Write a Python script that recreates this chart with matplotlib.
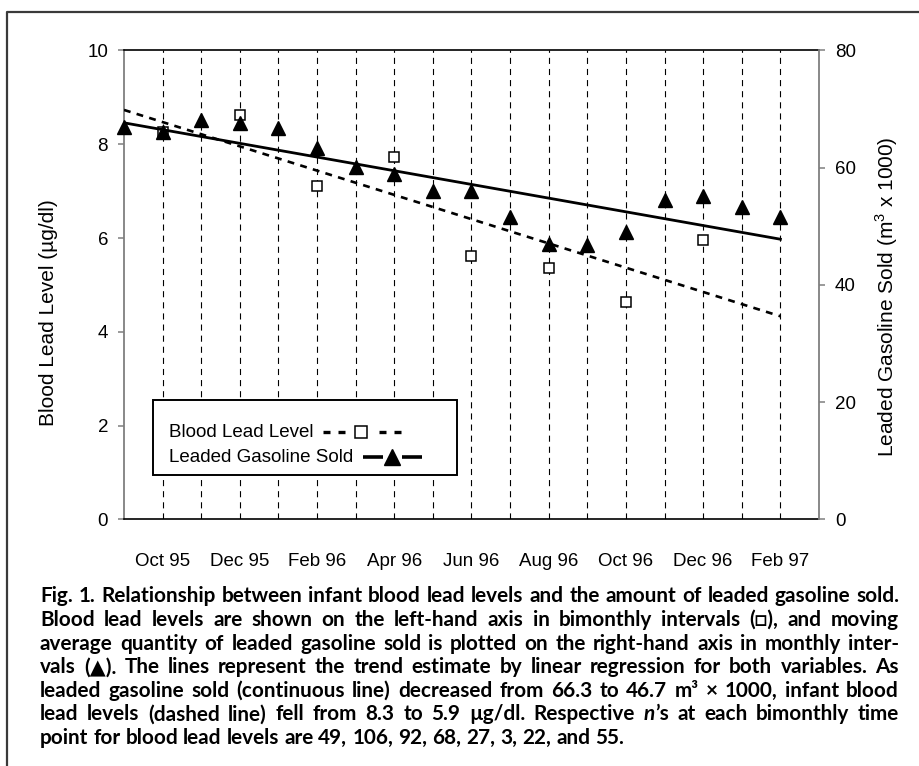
import numpy as np
import matplotlib
matplotlib.use("Agg")
import matplotlib.pyplot as plt
from matplotlib.lines import Line2D
from matplotlib.patches import Rectangle

plt.rcParams['font.family'] = ['Liberation Sans', 'DejaVu Sans']
plt.rcParams['mathtext.fontset'] = 'custom'
plt.rcParams['mathtext.rm'] = 'Liberation Sans'

# ---------------- data ----------------
months = ['Sep 95', 'Oct 95', 'Nov 95', 'Dec 95', 'Jan 96', 'Feb 96', 'Mar 96', 'Apr 96', 'May 96',
          'Jun 96', 'Jul 96', 'Aug 96', 'Sep 96', 'Oct 96', 'Nov 96', 'Dec 96', 'Jan 97', 'Feb 97']
gasoline_sold = [67.0, 66.1, 68.2, 67.7, 66.7, 63.4, 60.1, 58.9, 56.0,
                 56.1, 51.6, 47.0, 46.8, 49.0, 54.5, 55.1, 53.3, 51.6]
blood_months = ['Oct 95', 'Dec 95', 'Feb 96', 'Apr 96', 'Jun 96', 'Aug 96', 'Oct 96', 'Dec 96']
blood_lead = [8.26, 8.62, 7.12, 7.73, 5.62, 5.35, 4.64, 5.95]
tick_labels = ['Oct 95', 'Dec 95', 'Feb 96', 'Apr 96', 'Jun 96', 'Aug 96', 'Oct 96', 'Dec 96', 'Feb 97']
left_ticks = [0, 2, 4, 6, 8, 10]
right_ticks = [0, 20, 40, 60, 80]

caption_lines = [
    "Fig. 1. Relationship between infant blood lead levels and the amount of leaded gasoline sold.",
    "Blood lead levels are shown on the left-hand axis in bimonthly intervals (\u25a1), and moving",
    "average quantity of leaded gasoline sold is plotted on the right-hand axis in monthly inter-",
    "vals (\u25b2). The lines represent the trend estimate by linear regression for both variables. As",
    "leaded gasoline sold (continuous line) decreased from 66.3 to 46.7 m\u00b3 \u00d7 1000, infant blood",
    "lead levels (dashed line) fell from 8.3 to 5.9 \u00b5g/dl. Respective n\u2019s at each bimonthly time",
    "point for blood lead levels are 49, 106, 92, 68, 27, 3, 22, and 55.",
]

# ---------------- figure ----------------
W, H = 920, 766
fig = plt.figure(figsize=(W / 100, H / 100), dpi=100)
fig.patch.set_facecolor('white')


def fx(x):
    return x / W


def fy(y):
    return 1 - y / H


ax = fig.add_axes([fx(124), fy(519.3), (819 - 124) / W, (519.3 - 50.5) / H])
ax2 = ax.twinx()

x_gas = np.arange(len(months))
x_blood = np.array([months.index(m) for m in blood_months])
x_grid = np.arange(1, len(months))

ax.set_xlim(0, len(months))
ax.set_ylim(0, 10)
ax2.set_ylim(0, 80)

# vertical dashed month lines
for xg in x_grid:
    ax.axvline(xg, color='black', lw=0.8, linestyle=(0, (5.5, 4.5)), zorder=1)

# blood lead: regression (dashed) and squares
cb = np.polyfit(x_blood, blood_lead, 1)
xt = np.array([x_gas[0], x_gas[-1]])
ax.plot(xt, np.polyval(cb, xt), color='black', lw=1.9, linestyle=(0, (2.6, 2.4)), zorder=3)
ax.plot(x_blood, blood_lead, 's', ms=7.5, mfc='white', mec='black', mew=1.1,
        clip_on=False, zorder=4)

# gasoline: regression (solid) and triangles
cg = np.polyfit(x_gas, gasoline_sold, 1)
ax2.plot(xt, np.polyval(cg, xt), color='black', lw=2.0, zorder=3)
ax2.plot(x_gas, gasoline_sold, '^', ms=10, color='black', clip_on=False, zorder=4)

# spines
for s in ['top', 'bottom']:
    ax.spines[s].set_color('black')
    ax.spines[s].set_linewidth(1.2)
ax.spines['left'].set_color('#7f7f7f')
ax.spines['left'].set_linewidth(1.3)
ax.spines['right'].set_visible(False)
for s in ['top', 'bottom', 'left']:
    ax2.spines[s].set_visible(False)
ax2.spines['right'].set_color('#7f7f7f')
ax2.spines['right'].set_linewidth(1.3)

# ticks
ax.set_xticks(x_grid[::2])
ax.set_xticklabels(tick_labels)
ax.tick_params(axis='x', length=0, pad=24, labelsize=13.5)
ax.set_yticks(left_ticks)
ax.tick_params(axis='y', direction='out', length=4.5, width=1.1, color='#7f7f7f',
               pad=7, labelsize=13.5)
ax2.set_yticks(right_ticks)
ax2.tick_params(axis='y', direction='out', length=4.5, width=1.1, color='#7f7f7f',
                pad=7, labelsize=13.5)

ax.set_ylabel('Blood Lead Level (\u00b5g/dl)', fontsize=15)
ax.yaxis.set_label_coords((58 - 124) / 695, (519.3 - 313) / 468.8)
ax2.set_ylabel('Leaded Gasoline Sold (m$^{\\mathrm{3}}$ x 1000)', fontsize=15)
ax2.yaxis.set_label_coords((873 - 124) / 695, (519.3 - 296.5) / 468.8)

# ---------------- legend (drawn manually, handles after text) ----------------
fig.add_artist(Rectangle((fx(153), fy(475)), fx(457) - fx(153), fy(399.5) - fy(475),
                         transform=fig.transFigure, facecolor='white', edgecolor='black',
                         lw=1.4, zorder=5))
fig.text(fx(169), fy(432), 'Blood Lead Level', fontsize=13.5, va='center', ha='left', zorder=6)
fig.text(fx(169), fy(457), 'Leaded Gasoline Sold', fontsize=13.5, va='center', ha='left', zorder=6)
for a, b in [(323, 330), (338, 345), (379, 386), (394, 401)]:
    fig.add_artist(Line2D([fx(a), fx(b)], [fy(432), fy(432)], transform=fig.transFigure,
                          color='black', lw=2.4, solid_capstyle='butt', zorder=6))
fig.add_artist(Line2D([fx(361.5)], [fy(432)], transform=fig.transFigure, marker='s', ms=8.5,
                      mfc='white', mec='black', mew=1.1, zorder=7))
for a, b in [(363, 383), (402, 422)]:
    fig.add_artist(Line2D([fx(a), fx(b)], [fy(457.5), fy(457.5)], transform=fig.transFigure,
                          color='black', lw=2.6, solid_capstyle='butt', zorder=6))
fig.add_artist(Line2D([fx(392.5)], [fy(457)], transform=fig.transFigure, marker='^', ms=11.5,
                      color='black', zorder=7))

# outer frame (left and top sides)
fig.add_artist(Line2D([fx(7.5), fx(7.5), fx(925)], [fy(770), fy(12), fy(12)],
                      transform=fig.transFigure, color='#3a3a3a', lw=1.6, zorder=8))

# ---------------- justified caption ----------------
renderer = fig.canvas.get_renderer()
cap_kw = dict(family=['Lato', 'DejaVu Sans'], weight='bold', fontsize=12.8, color='black',
              va='baseline', ha='left')


def text_width(s, **extra):
    kw = dict(cap_kw)
    kw.update(extra)
    t = fig.text(0, 0, s, **kw)
    w = t.get_window_extent(renderer).width
    t.remove()
    return w


x_left, x_right = 40, 899
# size the caption font so that the first line fills the column at natural spacing
cap_kw['fontsize'] = 12.8 * 852 / text_width(caption_lines[0])
space_w = text_width('a a') - text_width('aa')
base0, step = 602.5, 23.6

for i, line in enumerate(caption_lines):
    words = line.split(' ')
    parts_list = []
    widths = []
    for w in words:
        if w.startswith('n\u2019s'):
            parts = [('n', dict(style='italic')), (w[1:], {})]
        else:
            parts = [(w, {})]
        pw = [text_width(p, **st) for p, st in parts]
        parts_list.append(list(zip(parts, pw)))
        widths.append(sum(pw))
    if i < len(caption_lines) - 1:
        gap = (x_right - x_left - sum(widths)) / (len(words) - 1)
    else:
        gap = space_w
    x = x_left
    y = base0 + i * step
    for parts, wsum in zip(parts_list, widths):
        xp = x
        for (p, st), pw in parts:
            kw = dict(cap_kw)
            kw.update(st)
            fig.text(fx(xp), fy(y), p, **kw)
            xp += pw
        x += wsum + gap

fig.savefig('out.png', dpi=100, facecolor='white')
